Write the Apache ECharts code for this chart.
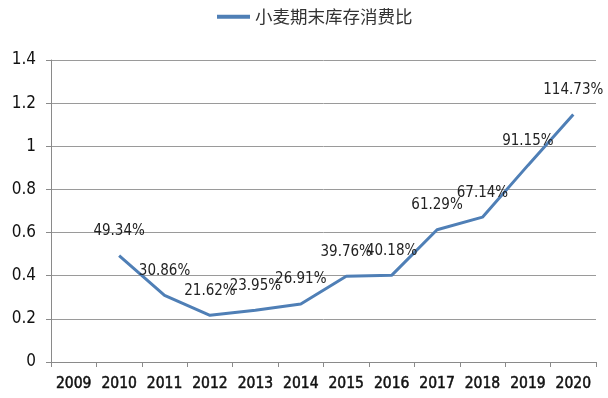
<!DOCTYPE html>
<html>
<head>
<meta charset="utf-8">
<script src="https://cdn.jsdelivr.net/npm/echarts@6/dist/echarts.min.js"></script>
<style>
  html, body { margin: 0; padding: 0; background: #fff; }
  #chart { width: 608px; height: 398px; }
</style>
</head>
<body>
<div id="chart"></div>
<script>
// 年份
var years = ['2009', '2010', '2011', '2012', '2013', '2014', '2015', '2016', '2017', '2018', '2019', '2020'];
// 小麦期末库存消费比 (2009 无数据)
var ratio = [null, 0.4934, 0.3086, 0.2162, 0.2395, 0.2691, 0.3976, 0.4018, 0.6129, 0.6714, 0.9115, 1.1473];
var seriesName = '小麦期末库存消费比';

var myChart = echarts.init(document.getElementById('chart'));
var condFont = "'DejaVu Sans Condensed', 'Liberation Sans', sans-serif";
var option = {
	animation: false,
	legend: {
		data: [seriesName],
		top: 3,
		left: 212,
		itemWidth: 33,
		itemHeight: 4,
		itemGap: 3,
		icon: 'rect',
		textStyle: { fontSize: 17.5, color: '#333', fontFamily: "'Noto Sans CJK SC', sans-serif" }
	},
	grid: {
		left: 51,
		right: 12,
		top: 60,
		bottom: 36
	},
	xAxis: {
		type: 'category',
		data: years,
		boundaryGap: true,
		axisLine: { lineStyle: { color: '#8a8a8a', width: 1 } },
		axisTick: { show: true, alignWithLabel: false, length: 5, lineStyle: { color: '#8a8a8a' } },
		axisLabel: {
			color: '#111', fontSize: 15.5, fontFamily: condFont, margin: 14, interval: 0,
			textBorderColor: '#111', textBorderWidth: 0.5
		}
	},
	yAxis: {
		type: 'value',
		min: 0,
		max: 1.4,
		interval: 0.2,
		axisLine: { show: true, lineStyle: { color: '#8a8a8a', width: 1 } },
		axisTick: { show: true, length: 5, lineStyle: { color: '#8a8a8a' } },
		axisLabel: {
			color: '#111', fontSize: 17, fontFamily: condFont, margin: 15,
			formatter: function (v) { return String(Math.round(v * 10) / 10); }
		},
		splitLine: { lineStyle: { color: '#9a9a9a', width: 1 } }
	},
	series: [
		{
			name: seriesName,
			type: 'line',
			data: ratio,
			showSymbol: true,
			symbol: 'circle',
			symbolSize: 0,
			connectNulls: false,
			lineStyle: { color: '#4f7fb6', width: 3 },
			itemStyle: { color: '#4f7fb6' },
			label: {
				show: true,
				position: 'top',
				distance: 17,
				color: '#222',
				fontSize: 15,
				fontFamily: condFont,
				formatter: function (p) { return (p.value * 100).toFixed(2) + '%'; }
			}
		}
	]
};
myChart.setOption(option);
</script>
</body>
</html>
